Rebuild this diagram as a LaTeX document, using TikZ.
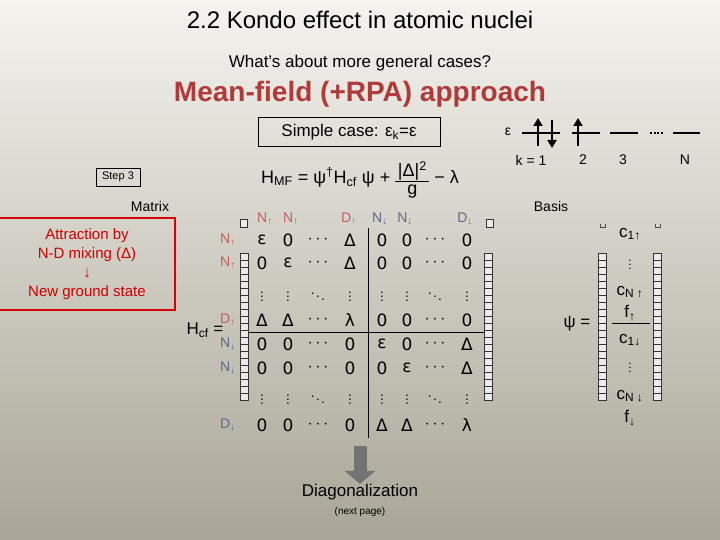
\documentclass[tikz,border=0pt]{standalone}
\usepackage{fontspec}
\setmainfont{Liberation Sans}
\newfontfamily\dv{DejaVu Sans}
\usetikzlibrary{arrows.meta}
\definecolor{upc}{HTML}{C06060}
\definecolor{dnc}{HTML}{5A6A8A}
\definecolor{titred}{HTML}{B03A3A}
\definecolor{bgtop}{HTML}{F4F3EE}
\definecolor{bgbot}{HTML}{A9A597}
\tikzset{
  ent/.style={font=\fontsize{17}{18}\selectfont, inner sep=0pt},
  lab/.style={font=\fontsize{14}{16}\selectfont, inner sep=0pt},
  lvl/.style={line width=2.5pt},
  spin/.style={line width=2.5pt,-{Triangle[length=8pt,width=9pt]}},
  cell/.style={draw=black!80, line width=0.8pt, fill=white!85!gray}
}
\begin{document}
\begin{tikzpicture}[x=1pt,y=-1pt]
\shade[top color=bgtop, bottom color=bgbot] (0,0) rectangle (720,540);
\useasboundingbox (0,0) rectangle (720,540);

\node (t1) at (360,20) {\fontsize{24}{26}\selectfont 2.2 Kondo effect in atomic nuclei};
\node (t2) at (360,63) {\fontsize{17}{19}\selectfont What’s about more general cases?};
\node (t3) at (360,94) {\fontsize{28}{30}\selectfont\bfseries\color{titred} Mean-field (+RPA) approach};

\node[draw, line width=0.8pt, minimum width=182pt, minimum height=29pt] (sc) at (349,132) {\fontsize{17}{19}\selectfont Simple case: ε\textsubscript{k}=ε};

% levels
\node[lab] (eps) at (508,132) {ε};
\draw[lvl] (522,133) -- (560,133);
\draw[spin] (538,146) -- (538,118);
\draw[spin] (552,120) -- (552,148);
\draw[lvl] (572,133) -- (600,133);
\draw[spin] (578,146) -- (578,118);
\draw[lvl] (610,133) -- (638,133);
\draw[line width=2.5pt, dash pattern=on 2pt off 1.5pt] (650,133) -- (664,133);
\draw[lvl] (673,133) -- (700,133);
\node[lab] (k1) at (531,160) {k = 1};
\node[lab] (k2) at (583,160) {2};
\node[lab] (k3) at (623,160) {3};
\node[lab] (kN) at (685,160) {N};

\node[draw, line width=0.6pt, font=\fontsize{11}{12}\selectfont, minimum width=44pt, minimum height=18pt] (st) at (118,177) {Step 3};
\node[lab] (mat) at (150,206) {Matrix};

\node[draw=red!85!black, line width=2pt, minimum width=176pt, minimum height=92pt, align=center,
  text=red!80!black, font=\fontsize{15}{19}\selectfont] (att) at (87,264)
  {Attraction by\\ N-D mixing (Δ)\\ ↓\\ New ground state};

\node (hmf) at (360,180) {\fontsize{18}{20}\selectfont H\textsubscript{MF} = ψ\textsuperscript{†}H\textsubscript{cf} ψ + \raisebox{-0.35\height}{\shortstack{|Δ|\textsuperscript{2}\\[-2pt]\rule{34pt}{0.8pt}\\g}} − λ};

% column labels
\foreach \x/\t/\c in {265/N\textsubscript{↑}/upc,291/N\textsubscript{↑}/upc,349/D\textsubscript{↑}/upc,380/N\textsubscript{↓}/dnc,405/N\textsubscript{↓}/dnc,465/D\textsubscript{↓}/dnc}
  \node[lab, text=\c] (c\x) at (\x,219) {\t};
\foreach \y/\t/\c in {240/N\textsubscript{↑}/upc,263/N\textsubscript{↑}/upc,320/D\textsubscript{↑}/upc,344/N\textsubscript{↓}/dnc,368/N\textsubscript{↓}/dnc,425/D\textsubscript{↓}/dnc}
  \node[lab, text=\c] (r\y) at (228,\y) {\t};

% entries
\def\vd{{\fontsize{12}{12}\selectfont$\vdots$}}
\def\dd{{\fontsize{12}{12}\selectfont$\ddots$}}
\def\cd{$\cdots$}
\foreach \y/\row in {
 240/{ε,0,\cd,Δ,0,0,\cd,0},
 263/{0,ε,\cd,Δ,0,0,\cd,0},
 294/{\vd,\vd,\dd,\vd,\vd,\vd,\dd,\vd},
 320/{Δ,Δ,\cd,λ,0,0,\cd,0},
 344/{0,0,\cd,0,ε,0,\cd,Δ},
 368/{0,0,\cd,0,0,ε,\cd,Δ},
 397/{\vd,\vd,\dd,\vd,\vd,\vd,\dd,\vd},
 425/{0,0,\cd,0,Δ,Δ,\cd,λ}} {
  \foreach \e [count=\i] in \row {
    \pgfmathsetmacro{\xx}{{262,288,318,350,382,407,435,467}[\i-1]}
    \node[ent] at (\xx,\y) {\dv\e};
  }
}
\draw[line width=0.8pt] (368,228) -- (368,438);
\draw[line width=0.8pt] (248,332) -- (485,332);

% bracket cell columns
\foreach \x in {240,484,598,653} {
  \foreach \k in {0,...,20}
    \draw[cell] (\x,{253+7*\k}) rectangle ++(8,7);
}
\draw[cell] (240,219) rectangle ++(7,8);
\draw[cell] (486,219) rectangle ++(7,8);
\draw[black!70, line width=0.8pt] (600,224) -- (600,227) -- (605,227) -- (605,224);
\draw[black!70, line width=0.8pt] (655,224) -- (655,227) -- (660,227) -- (660,224);

\node (hcf) at (205,330) {\fontsize{17}{19}\selectfont H\textsubscript{cf} =};

% arrow
\node[lab] (diag) at (360,492) {\fontsize{17}{19}\selectfont Diagonalization};
\node (np) at (360,512) {\fontsize{10}{12}\selectfont (next page)};
\coordinate (atop) at (360,446);
\draw[black!55, line width=13pt, -{Triangle[length=13pt,width=30pt]}] (atop) -- (diag.north);

% basis
\node[lab] (bas) at (551,206) {Basis};
\node (psi) at (577,324) {\fontsize{17}{19}\selectfont ψ =};
\foreach \y/\t in {234/c\textsubscript{1↑},262/\vd,292/c\textsubscript{N ↑},313/f\textsubscript{↑},340/c\textsubscript{1↓},365/\vd,396/c\textsubscript{N ↓},418/f\textsubscript{↓}}
  \node[ent] at (630,\y) {\t};
\draw[line width=0.8pt] (612,323) -- (650,323);
\end{tikzpicture}
\end{document}
